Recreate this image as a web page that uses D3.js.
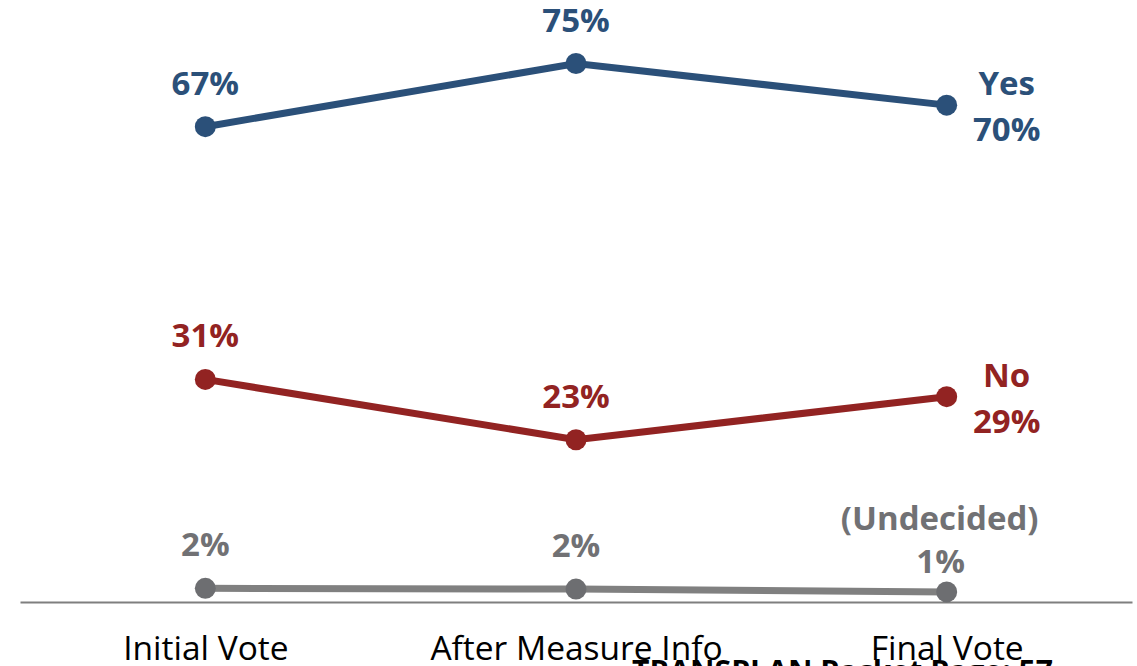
<!DOCTYPE html>
<html>
<head>
<meta charset="utf-8">
<script src="https://cdn.jsdelivr.net/npm/d3@7"></script>
<style>
  html, body { margin: 0; padding: 0; background: #fff; overflow: hidden; }
  svg { display: block; }
</style>
</head>
<body>
<svg id="chart" width="1137" height="666"></svg>
<script>
// ---- data ----
const categories = ["Initial Vote", "After Measure Info", "Final Vote"];
const yesValues = [66.2, 75.0, 69.2];
const noValues = [31.0, 22.6, 28.6];
const undecidedValues = [1.9, 1.8, 1.4];
const yesLabels = ["67%", "75%", "70%"];
const noLabels = ["31%", "23%", "29%"];
const undecidedLabels = ["2%", "2%", "1%"];
const seriesNames = ["Yes", "No", "(Undecided)"];
const footerText = "TRANSPLAN Packet Page: 57";

// ---- layout ----
const W = 1137, H = 666;
const svg = d3.select("#chart");
const x = d3.scalePoint().domain(categories).range([20, 1132]).padding(0.5);
const y = d3.scaleLinear().domain([0, 100]).range([602, -116]);

const FONT = "'Open Sans', 'Noto Sans', 'DejaVu Sans', sans-serif";

const series = [
  { name: seriesNames[0], values: yesValues, labels: yesLabels, line: "#2B5079", dot: "#2B5079", text: "#2B5079" },
  { name: seriesNames[1], values: noValues, labels: noLabels, line: "#922322", dot: "#922322", text: "#922322" },
  { name: seriesNames[2], values: undecidedValues, labels: undecidedLabels, line: "#808080", dot: "#6D6E71", text: "#717174" }
];

// axis (baseline + category labels)
const axis = d3.axisBottom(x).tickSize(0).tickSizeOuter(0);
const gAxis = svg.append("g").attr("transform", `translate(0,${y(0)})`).call(axis);
gAxis.select(".domain").attr("stroke", "#7F7F7F").attr("stroke-width", 2.2);
gAxis.selectAll(".tick text")
  .attr("y", 58).attr("dy", 0)
  .attr("font-family", FONT).attr("font-size", 33.5).attr("fill", "#000");

// lines
const line = d3.line().x((d, i) => x(categories[i])).y(d => y(d));
series.forEach(s => {
  svg.append("path")
    .datum(s.values)
    .attr("d", line)
    .attr("fill", "none")
    .attr("stroke", s.line)
    .attr("stroke-width", 7);
  svg.selectAll(null).data(s.values).enter().append("circle")
    .attr("cx", (d, i) => x(categories[i]))
    .attr("cy", d => y(d))
    .attr("r", 10.5)
    .attr("fill", s.dot);
});

// value labels
function label(txt, cx, cy, color) {
  svg.append("text")
    .attr("x", cx).attr("y", cy)
    .attr("text-anchor", "middle")
    .attr("font-family", FONT).attr("font-weight", 700).attr("font-size", 33)
    .attr("fill", color)
    .text(txt);
}
series.forEach((s, si) => {
  s.values.forEach((v, i) => {
    const px = x(categories[i]), py = y(v);
    const last = i === s.values.length - 1;
    if (!last) {
      label(s.labels[i], px, py - 32, s.text);
    } else if (si < 2) {
      label(s.name, px + 60, py - 10, s.text);
      label(s.labels[i], px + 60, py + 36, s.text);
    } else {
      label(s.name, px - 7, py - 62, s.text);
      label(s.labels[i], px - 6, py - 19, s.text);
    }
  });
});

// footer overlay text (clipped at bottom)
svg.append("text")
  .attr("x", 632).attr("y", 681)
  .attr("font-family", FONT).attr("font-weight", 700).attr("font-size", 29)
  .attr("fill", "#000")
  .attr("textLength", 421).attr("lengthAdjust", "spacingAndGlyphs")
  .text(footerText);
</script>
</body>
</html>
